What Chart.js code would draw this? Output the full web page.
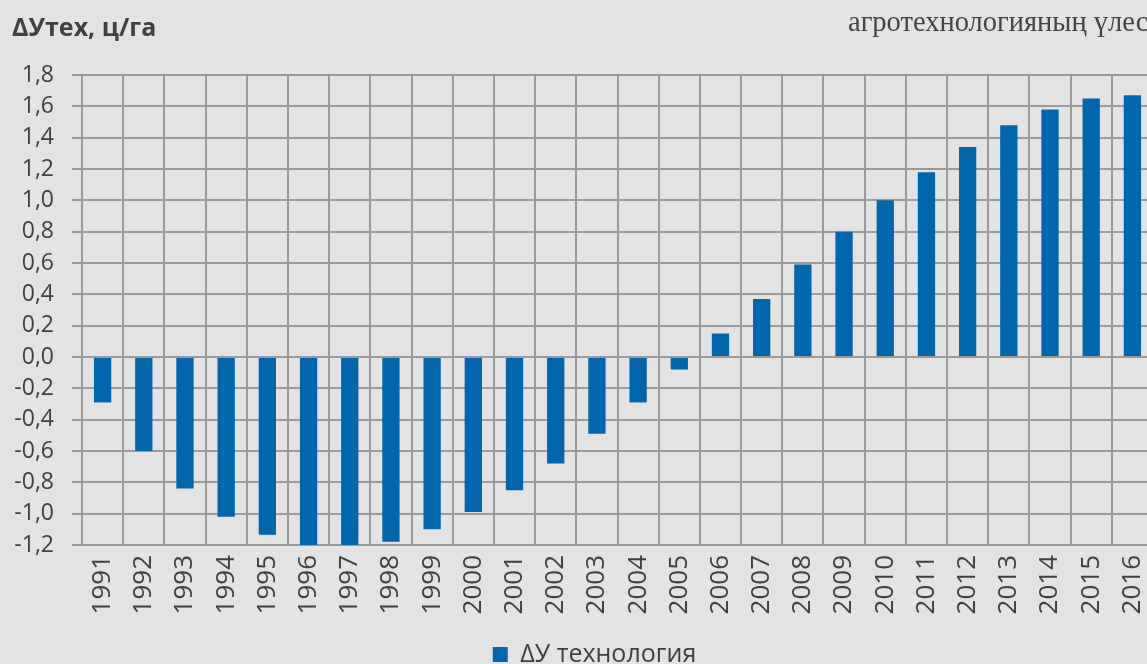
<!DOCTYPE html>
<html>
<head>
<meta charset="utf-8">
<script src="https://cdn.jsdelivr.net/npm/chart.js@4.4.1/dist/chart.umd.min.js"></script>
<style>
  html, body { margin: 0; padding: 0; background: #e3e3e3; overflow: hidden; width: 1147px; height: 664px; }
  #wrap { position: absolute; left: 0; top: 0; width: 1190px; height: 677px; }
  #topnote { position: absolute; left: 848px; top: 6px; font-family: "Liberation Serif", serif; font-size: 28.5px; color: #444; white-space: nowrap; }
</style>
</head>
<body>
<div id="wrap"><canvas id="c" width="1190" height="677"></canvas></div>
<div id="topnote">агротехнологияның үлес</div>
<script>
const years = ["1991","1992","1993","1994","1995","1996","1997","1998","1999","2000","2001","2002","2003","2004","2005","2006","2007","2008","2009","2010","2011","2012","2013","2014","2015","2016"];
const deltaTech = [-0.29,-0.60,-0.84,-1.02,-1.135,-1.20,-1.21,-1.18,-1.10,-0.99,-0.85,-0.68,-0.49,-0.29,-0.08,0.15,0.37,0.59,0.80,1.00,1.18,1.34,1.48,1.58,1.65,1.67];
const seriesName = "ΔУ технология";
const axisTitle = "ΔУтех, ц/га";
const yMin = -1.2, yMax = 1.8, yStep = 0.2;

const textColor = "#404040";
const gridColor = "#9a9a9a";
const barColor = "#0067ae";

const legendShift = {
  id: "legendShift",
  afterLayout(chart) {
    if (chart.legend) { chart.legend.left += 12; chart.legend.right += 12; }
  }
};

new Chart(document.getElementById("c"), {
  type: "bar",
  data: {
    labels: years,
    datasets: [{
      label: seriesName,
      data: deltaTech,
      backgroundColor: barColor,
      borderWidth: 0,
      barPercentage: 0.42,
      categoryPercentage: 1.0
    }]
  },
  plugins: [legendShift],
  options: {
    responsive: false,
    animation: false,
    devicePixelRatio: 1,
    layout: { padding: { left: 12, right: 37, top: 0, bottom: 0 } },
    plugins: {
      title: {
        display: true,
        text: axisTitle,
        align: "start",
        color: textColor,
        font: { family: "Open Sans", size: 25, weight: "bold" },
        padding: { top: 14, bottom: 31 }
      },
      legend: {
        position: "bottom",
        labels: {
          color: textColor,
          font: { family: "Open Sans", size: 25 },
          boxWidth: 15,
          boxHeight: 15,
          padding: 12
        }
      },
      tooltip: { enabled: false }
    },
    scales: {
      x: {
        grid: { color: gridColor, lineWidth: 2, drawTicks: false, offset: true },
        border: { color: gridColor, width: 2 },
        ticks: {
          color: textColor,
          font: { family: "Open Sans", size: 26 },
          minRotation: 90, maxRotation: 90,
          padding: 10,
          autoSkip: false
        },
        afterFit: (s) => { s.height = 85; }
      },
      y: {
        min: yMin, max: yMax,
        grid: { color: gridColor, lineWidth: 2, tickLength: 10 },
        border: { color: gridColor, width: 2 },
        ticks: {
          stepSize: yStep,
          color: textColor,
          font: { family: "Open Sans", size: 23 },
          padding: 18,
          callback: (v) => v.toFixed(1).replace(".", ",")
        },
        afterFit: (s) => { s.width = 70; }
      }
    }
  }
});
</script>
</body>
</html>
